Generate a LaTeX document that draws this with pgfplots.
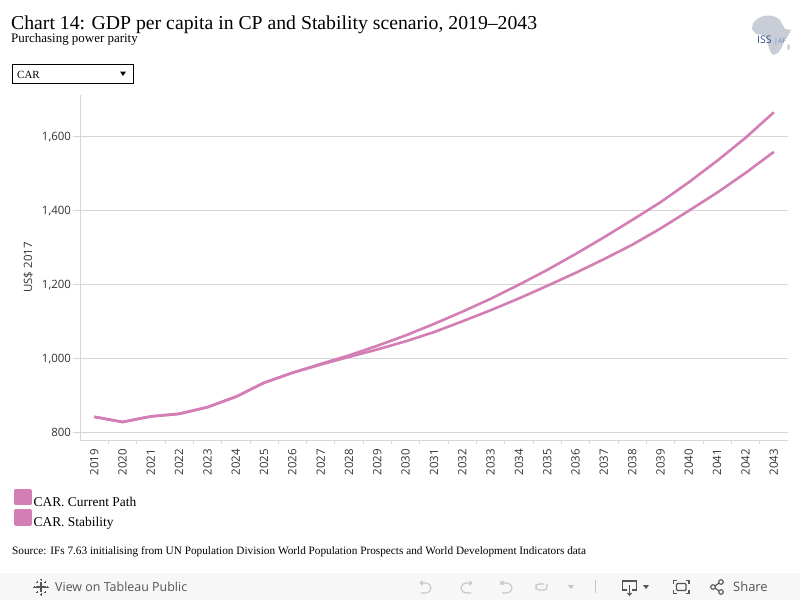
\documentclass[border=0pt]{standalone}
\usepackage{fontspec}
\setmainfont{Liberation Serif}
\newfontfamily\tabfont{Open Sans}
\usepackage{pgfplots}
\pgfplotsset{compat=1.18}
\definecolor{pinkline}{RGB}{212,126,182}
\definecolor{gridgray}{RGB}{214,214,214}
\definecolor{txtgray}{RGB}{51,51,51}
\definecolor{tbgray}{RGB}{85,85,85}
\definecolor{tblight}{RGB}{198,198,198}
\definecolor{tbbg}{RGB}{247,247,247}
\definecolor{afrgray}{RGB}{201,206,214}
\definecolor{issblue}{RGB}{45,79,138}
\definecolor{afblue}{RGB}{110,140,190}

\pgfplotstableread{
year current stability
2019 843 843
2020 829 829
2021 844 844
2022 851 851
2023 869 869
2024 897 897
2025 935 935
2026 962 962
2027 984 986
2028 1005 1009
2029 1025 1035
2030 1047 1063
2031 1072 1094
2032 1101 1127
2033 1131 1162
2034 1163 1200
2035 1197 1240
2036 1232 1283
2037 1269 1328
2038 1308 1375
2039 1352 1423
2040 1400 1477
2041 1449 1535
2042 1502 1597
2043 1559 1666
}\gdpdata

\begin{document}
\begin{tikzpicture}
\useasboundingbox (0,0) rectangle (800bp,-600bp);
\fill[white] (0,0) rectangle (800bp,-600bp);
\begin{scope}[x=1bp,y=-1bp]
  % title & subtitle
  \node[anchor=base west, inner sep=0pt] at (11,29)
    {\fontsize{19.8}{22}\selectfont Chart 14: GDP per capita in CP and Stability scenario, 2019–2043};
  \node[anchor=base west, inner sep=0pt] at (11,42.5)
    {\fontsize{13}{15}\selectfont Purchasing power parity};
  % dropdown
  \draw[black, line width=1bp] (12.5,64.5) rectangle (133.5,83.5);
  \node[anchor=base west, inner sep=0pt] at (17,78) {\fontsize{11}{13}\selectfont CAR};
  \fill[black] (120,71.5) -- (126,71.5) -- (123,76) -- cycle;
  % logo
  \fill[afrgray] (757,19) -- (763,16) -- (770,15.5) -- (776,17) -- (780,20) -- (782,24)
     -- (785,29) -- (791,30) -- (788,36) -- (784,41) -- (782,47) -- (778,53) -- (773,55)
     -- (770,51) -- (768,45) -- (767,39) -- (763,35) -- (756,34) -- (752,29) -- (753,23) -- cycle;
  \fill[afrgray] (788.5,47) ellipse (1.3 and 3);
  \node[anchor=base west, inner sep=0pt, text=issblue] at (757,43.5)
     {\tabfont\fontsize{10.5}{11}\selectfont ISS};
  \node[anchor=base west, inner sep=0pt, text=afblue] at (774,43)
     {\tabfont\fontsize{7}{8}\selectfont |AF};
  % source
  \node[anchor=base west, inner sep=0pt] at (12,554.5)
    {\fontsize{11.3}{12}\selectfont Source: IFs 7.63 initialising from UN Population Division World Population Prospects and World Development Indicators data};
  % toolbar
  \fill[tbbg] (0,573) rectangle (800,600);
  \begin{scope}[tbgray, line width=1.1bp]
    \draw (41,582) -- (41,592) (36,587) -- (46,587);
    \draw[line width=0.9bp] (41,578.5) -- (41,581) (39.8,579.7) -- (42.2,579.7);
    \draw[line width=0.9bp] (41,593) -- (41,595.5) (39.8,594.3) -- (42.2,594.3);
    \draw[line width=0.9bp] (33.3,587) -- (35.7,587) (34.5,585.8) -- (34.5,588.2);
    \draw[line width=0.9bp] (46.3,587) -- (48.7,587) (47.5,585.8) -- (47.5,588.2);
    \draw[line width=0.7bp] (36,582) -- (38,582) (37,581) -- (37,583);
    \draw[line width=0.7bp] (44,582) -- (46,582) (45,581) -- (45,583);
    \draw[line width=0.7bp] (36,592) -- (38,592) (37,591) -- (37,593);
    \draw[line width=0.7bp] (44,592) -- (46,592) (45,591) -- (45,593);
  \end{scope}
  \node[anchor=base west, inner sep=0pt, text=tbgray] at (55,591.5)
    {\tabfont\fontsize{12.5}{14}\selectfont View on Tableau Public};
  \begin{scope}[tblight, line width=1.1bp]
    % undo
    \draw (420.5,583) -- (426,583) arc[start angle=-90, end angle=90, radius=5] -- (421,593);
    \draw (422.5,581) -- (420.5,583) -- (422.5,585);
    % redo
    \draw (471.5,583) -- (466,583) arc[start angle=270, end angle=90, radius=5] -- (471,593);
    \draw (469.5,581) -- (471.5,583) -- (469.5,585);
    % revert
    \draw (500.5,580.5) -- (500.5,585);
    \draw (501.5,583) -- (507,583) arc[start angle=-90, end angle=90, radius=5] -- (502,593);
    \draw (503.5,581) -- (501.5,583) -- (503.5,585);
    % refresh
    \draw[rounded corners=3bp] (544,584) -- (536,584) -- (536,590) -- (547,590) -- (547,584);
    \fill (568,585) -- (574,585) -- (571,589) -- cycle;
    % separator
    \draw[line width=0.8bp] (595.5,580) -- (595.5,593);
  \end{scope}
  \begin{scope}[tbgray, line width=1.1bp]
    % download
    \draw (627,590) -- (622.5,590) -- (622.5,581) -- (636.5,581) -- (636.5,590) -- (632,590);
    \draw (629.5,585) -- (629.5,595);
    \draw (627.5,593) -- (629.5,595) -- (631.5,593);
    \fill (643,585) -- (649,585) -- (646,589) -- cycle;
    % fullscreen
    \draw (673.5,584) -- (673.5,580.5) -- (677,580.5) (685.5,580.5) -- (689,580.5) -- (689,584)
          (689,590) -- (689,593.5) -- (685.5,593.5) (677,593.5) -- (673.5,593.5) -- (673.5,590);
    \draw[rounded corners=1bp] (676.5,583.5) rectangle (686,590.5);
    % share
    \draw (713,587) circle (2.3) (721,582) circle (2.3) (721,592) circle (2.3);
    \draw (715,586) -- (719,583) (715,588) -- (719,591);
  \end{scope}
  \node[anchor=base west, inner sep=0pt, text=tbgray] at (733,591.5)
    {\tabfont\fontsize{13}{14}\selectfont Share};
\end{scope}

\begin{axis}[
  at={(80bp,-440bp)}, anchor=south west,
  scale only axis, width=708bp, height=345bp,
  xmin=2018.5, xmax=2043.5, ymin=780.3, ymax=1712.7,
  axis x line*=bottom, axis y line*=left,
  axis line style={draw=gridgray, line width=0.8bp, -},
  scaled x ticks=false, scaled y ticks=false,
  xtick={2019,...,2043},
  minor xtick={2019.5,2020.5,...,2042.5},
  ytick={800,1000,1200,1400,1600},
  tick align=outside,
  major tick length=7bp, minor tick length=4bp,
  major x tick style={draw=none},
  minor x tick style={draw=gridgray, line width=0.8bp},
  major y tick style={draw=gridgray, line width=0.8bp},
  ymajorgrids, grid style={draw=gridgray, line width=0.8bp},
  ticklabel style={font=\tabfont\fontsize{11.5}{13}\selectfont, text=txtgray},
  /pgf/number format/assume math mode=true,
  xticklabel style={rotate=90, anchor=east, yshift=0bp, xshift=1.5bp, /pgf/number format/1000 sep={}},
  yticklabel style={/pgf/number format/1000 sep={,}, xshift=1.5bp},
  ylabel={US\$ 2017},
  ylabel style={at={(axis description cs:-0.0734,0.5)}, anchor=center,
     font=\tabfont\fontsize{11.5}{13}\selectfont, text=txtgray},
  legend style={at={(axis description cs:-0.0928,-0.142)}, anchor=north west,
     draw=none, fill=none, inner sep=0pt, outer sep=0pt, row sep=1bp,
     font=\fontsize{13.5}{16}\selectfont,
     nodes={inner sep=0pt}},
  legend cell align=left,
  legend image code/.code={\fill[pinkline] (0bp,-1.2bp) rectangle (14.7bp,12.5bp);},
]
\addplot[pinkline, line width=2.6bp, line join=round, no markers] table[x=year, y=current] {\gdpdata};
\addlegendentry{\hspace{2bp}CAR. Current Path}
\addplot[pinkline, line width=2.6bp, line join=round, no markers] table[x=year, y=stability] {\gdpdata};
\addlegendentry{\hspace{2bp}CAR. Stability}
\end{axis}
\end{tikzpicture}
\end{document}
